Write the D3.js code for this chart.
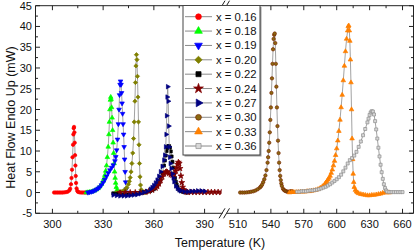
<!DOCTYPE html>
<html><head><meta charset="utf-8">
<script src="https://cdn.jsdelivr.net/npm/d3@7"></script>
<style>html,body{margin:0;padding:0;background:#fff;}svg{display:block;font-family:"Liberation Sans",Arial,sans-serif;}</style>
</head><body><svg id="c" width="415" height="251"></svg>
<script>
// ---- data ----
const leftTicks = [300, 330, 360, 390];
const rightTicks = [510, 540, 570, 600, 630, 660];
const yTicks = [-5, 0, 5, 10, 15, 20, 25, 30, 35, 40, 45];
const labels = ["x = 0.16","x = 0.18","x = 0.19","x = 0.20","x = 0.22","x = 0.24","x = 0.27","x = 0.30","x = 0.33","x = 0.36"];

const T016 = [301,302,303,304,305,306,307,308,309,310,310.5,311,311.3,311.6,311.9,312.2,312.4,312.6,312.8,313.0,313.2,313.4,313.6,313.8,314.0,314.3,314.7,315.2,316,317,318,319,320];
const V016 = [0,0,0,0,0,0,0.05,0.1,0.2,0.5,0.9,2,3.5,5.5,8.5,11.5,14,15.5,15.8,14.5,12,9,6.5,4,2.3,1,0.4,0.15,0.05,0,0,0,0];

const T018 = [320,321,322,323,324,325,326,327,328,329,330,330.5,331,331.5,332,332.5,333,333.4,333.7,334,334.3,334.5,334.7,335,335.3,335.6,335.9,336.2,336.5,336.8,337.1,337.4,337.8,338.2,338.7,339.2,339.7];
const V018 = [0,0.05,0.1,0.2,0.3,0.5,0.7,1.0,1.4,2.0,2.8,3.4,4.2,5.2,6.5,8.5,11,14,17,20,22.3,23,22.5,20.5,18,15,12,9.5,7,5,3.5,2.3,1.3,0.6,0.2,0.05,0];

const T019 = [321,322,323,324,325,326,327,328,329,330,331,332,333,334,335,336,337,337.5,338,338.5,339,339.4,339.7,340,340.3,340.6,340.9,341.2,341.5,341.8,342.1,342.4,342.7,343,343.3,343.6,344,344.5];
const V019 = [0,0.1,0.2,0.3,0.5,0.7,1.0,1.3,1.8,2.4,3.1,3.9,4.7,5.4,6.0,6.6,7.6,8.6,10.2,12.8,16.5,20,23.5,26,26.8,26,24,21.5,19,16.5,14,11,8,5,2.5,0.8,0,-0.3];

const T020 = [338,339,340,341,342,343,344,345,345.5,346,346.5,347,347.5,348,348.4,348.8,349.1,349.4,349.7,350,350.3,350.6,350.9,351.2,351.5,351.8,352.1,352.5,353,354,355];
const V020 = [0,0,0.1,0.2,0.4,0.7,1.2,2,2.7,3.6,5,7,9.5,13,17,22,26.5,30.5,33.2,32,28,23,17,11.5,7,3.8,1.8,0.7,0.2,0,0];

const T022 = [336,338,340,342,344,346,348,350,352,354,356,358,359,360,361,362,363,364,365,366,366.5,367,367.5,368,368.5,369,369.5,370,370.5,371,371.5,372,372.5,373,373.5,374,375,376,377,378,379,380];
const V022 = [-0.2,-0.3,-0.3,-0.3,-0.3,-0.2,-0.2,-0.1,0,0.1,0.2,0.4,0.6,0.8,1.1,1.6,2.3,3.3,4.7,6.5,7.7,8.9,10,10.8,11.2,11.2,10.8,9.9,8.7,7.4,6,4.6,3.5,2.6,1.9,1.3,0.7,0.4,0.2,0.1,0,0];

const T024 = [340,343,346,349,352,355,357,359,361,362,363,364,365,366,367,367.5,368,369,370,371,372,373,373.5,374,374.5,375,375.5,376,376.5,377,377.5,378,379,380,382,384,386,388,390,392,394,396,398,400];
const V024 = [0,0,0,0,0,0.1,0.3,0.6,1.1,1.5,2.1,2.9,3.8,4.5,4.9,5,4.9,4.6,4.3,4.2,4.4,5.2,6,6.8,7.3,7,5.8,4,2.4,1.3,0.7,0.4,0.2,0.1,0.1,0.1,0.1,0.1,0.1,0.1,0.1,0.1,0.1,0.1];

const T027 = [336,338,340,342,344,346,348,350,352,354,356,358,359,360,361,362,363,364,365,366,366.5,367,367.3,367.6,367.9,368.2,368.5,368.8,369.1,369.4,369.8,370.3,371,371.5,372,373,374,375,376,378,380,382,384,386,388,390];
const V027 = [-0.6,-0.7,-0.8,-0.8,-0.8,-0.7,-0.6,-0.5,-0.3,0,0.3,0.8,1.2,1.7,2.3,3,3.9,5,6.3,7.8,9,11,14,18.5,23,25.5,22,16,11,8.5,7,5.8,4.5,3.5,2.6,1.6,1,0.6,0.4,0.2,0.2,0.3,0.3,0.4,0.4,0.3];

const T030 = [512,514,516,518,520,522,524,526,528,530,531,532,533,534,535,536,537,537.5,538,538.5,539,539.5,540,540.5,541,541.5,542,542.5,543,543.5,544,544.5,545,545.5,546,546.5,547,547.5,548,548.5,549,549.5,550,551,552,553,554,555,556,557,558,559,560];
const V030 = [0,0,0,0.05,0.1,0.2,0.3,0.5,0.8,1.2,1.5,1.9,2.5,3.2,4.1,5.4,7.2,8.5,10,12,14.5,17.5,20.5,24,27.5,31,34.5,37,38,38.3,36,31,25.5,20.5,16,12.5,9.5,7.2,5.4,4,3,2.2,1.6,0.9,0.6,0.4,0.3,0.2,0.2,0.2,0.3,0.3,0.2];

const T033 = [557,559,561,563,565,567,569,571,573,575,577,579,581,583,585,587,589,590,591,592,593,594,595,596,597,598,599,600,601,602,603,604,605,606,607,608,609,610,610.5,611,611.5,612,612.5,613,613.5,614,614.5,615,615.5,616,617,618,619,620,622,624,626,628,630,632,634,636,638,640,642,644,646,648];
const V033 = [0,0.1,0.1,0.1,0.1,0.2,0.2,0.2,0.3,0.3,0.4,0.5,0.6,0.8,1.1,1.5,2,2.3,2.7,3.1,3.5,4,4.7,5.5,6.5,7.6,9,10.6,12.5,14.8,17.5,20.5,23.5,27,30.5,34,37,39,40,40.2,39,36.5,32,26.5,20,13,8,4.5,2.5,1.3,0.6,0.2,0,-0.2,-0.4,-0.5,-0.6,-0.7,-0.7,-0.6,-0.6,-0.5,-0.4,-0.3,-0.1,0,0,0];

const T036 = [564,566,568,570,572,574,576,578,580,582,584,586,588,590,592,594,596,598,600,602,604,606,608,610,612,614,616,618,620,622,624,626,628,629,630,631,632,633,634,635,636,637,638,639,640,641,642,643,644,645,646,648,650,652,654,656,658,660];
const V036 = [0.2,0.2,0.3,0.3,0.3,0.4,0.5,0.5,0.6,0.7,0.8,1,1.2,1.4,1.7,2,2.4,2.8,3.2,3.7,4.3,5.1,6,7,7.8,8.3,8.9,9.8,11,12.3,13.8,15.3,16.9,17.8,18.7,19.3,19.6,19.5,18.8,17.2,15.2,13,10.8,8.7,6.7,4.9,3.3,2,1.1,0.5,0.2,0.1,0.1,0.1,0.1,0.1,0.1,0.1];

// ---- styles ----
const series = [
  {T:T016, V:V016, panel:0, sym:d3.symbolCircle, rot:0, fill:"#ff0000", stroke:"#ff0000"},
  {T:T018, V:V018, panel:0, sym:d3.symbolTriangle, rot:0, fill:"#00ff00", stroke:"#00ff00"},
  {T:T019, V:V019, panel:0, sym:d3.symbolTriangle, rot:180, fill:"#0000ff", stroke:"#0000ff"},
  {T:T020, V:V020, panel:0, sym:d3.symbolSquare, rot:45, fill:"#808000", stroke:"#808000"},
  {T:T022, V:V022, panel:0, sym:d3.symbolSquare, rot:0, fill:"#000000", stroke:"#000000"},
  {T:T024, V:V024, panel:0, sym:d3.symbolStar, rot:0, fill:"#800000", stroke:"#800000"},
  {T:T027, V:V027, panel:0, sym:d3.symbolTriangle, rot:90, fill:"#000080", stroke:"#000080"},
  {T:T030, V:V030, panel:1, sym:d3.symbolCircle, rot:0, fill:"#8b6a10", stroke:"#7a2600"},
  {T:T033, V:V033, panel:1, sym:d3.symbolTriangle, rot:0, fill:"#ff8000", stroke:"#ff8000"},
  {T:T036, V:V036, panel:1, sym:d3.symbolSquare, rot:0, fill:"#d8d8d8", stroke:"#8c8c8c"}
];

const svg = d3.select("#c");
const L = 35.5, R = 413.5, TOP = 5.7, BOT = 213.3;
const xL = d3.scaleLinear().domain([290, 400]).range([L, 221.5]);
const xR = d3.scaleLinear().domain([500, 670]).range([227, R]);
const y = d3.scaleLinear().domain([-5, 45]).range([BOT, TOP]);

const defs = svg.append("defs");
defs.append("clipPath").attr("id","cl").append("rect").attr("x",L).attr("y",TOP).attr("width",221.5-L).attr("height",BOT-TOP);
defs.append("clipPath").attr("id","cr").append("rect").attr("x",227).attr("y",TOP).attr("width",R-227).attr("height",BOT-TOP);

// data
series.forEach(s => {
  const xs = s.panel === 0 ? xL : xR;
  const g = svg.append("g").attr("clip-path", s.panel === 0 ? "url(#cl)" : "url(#cr)");
  const pts = s.T.map((t,i)=>[t, s.V[i]]);
  g.append("path").datum(pts)
    .attr("d", d3.line().x(d=>xs(d[0])).y(d=>y(d[1])))
    .attr("fill","none").attr("stroke","#8a8a8a").attr("stroke-width",0.8);
  const sym = d3.symbol().type(s.sym).size(s.sym===d3.symbolStar?11:9);
  g.selectAll("path.m").data(pts).join("path").attr("class","m")
    .attr("d", sym)
    .attr("transform", d=>`translate(${xs(d[0])},${y(d[1])}) rotate(${s.rot})`)
    .attr("fill", s.fill).attr("stroke", s.stroke).attr("stroke-width",0.7);
});

// frame & axes
const ax = svg.append("g").attr("stroke","#222").attr("stroke-width",1).attr("fill","none");
ax.append("line").attr("x1",L).attr("x2",L).attr("y1",TOP).attr("y2",BOT);
ax.append("line").attr("x1",R).attr("x2",R).attr("y1",TOP).attr("y2",BOT);
[TOP, BOT].forEach(yy => {
  ax.append("line").attr("x1",L).attr("x2",222.5).attr("y1",yy).attr("y2",yy);
  ax.append("line").attr("x1",226.5).attr("x2",R).attr("y1",yy).attr("y2",yy);
  ax.append("line").attr("x1",219).attr("x2",225).attr("y1",yy+5).attr("y2",yy-5);
  ax.append("line").attr("x1",223.5).attr("x2",229.5).attr("y1",yy+5).attr("y2",yy-5);
});
function xTicks(scale, majors, minors){
  majors.forEach(v=>{
    const x = scale(v);
    ax.append("line").attr("x1",x).attr("x2",x).attr("y1",BOT).attr("y2",BOT-4.5);
    ax.append("line").attr("x1",x).attr("x2",x).attr("y1",TOP).attr("y2",TOP+4.5);
    svg.append("text").attr("x",x).attr("y",227.5).attr("text-anchor","middle")
      .attr("font-size",11).attr("fill","#111").text(v);
  });
  minors.forEach(v=>{
    const x = scale(v);
    ax.append("line").attr("x1",x).attr("x2",x).attr("y1",BOT).attr("y2",BOT-2.5);
    ax.append("line").attr("x1",x).attr("x2",x).attr("y1",TOP).attr("y2",TOP+2.5);
  });
}
xTicks(xL, leftTicks, leftTicks.map(v=>v+15).filter(v=>v<400));
xTicks(xR, rightTicks, rightTicks.map(v=>v+15).filter(v=>v<670));
yTicks.forEach(v=>{
  const yy = y(v);
  ax.append("line").attr("x1",L).attr("x2",L+4.5).attr("y1",yy).attr("y2",yy);
  ax.append("line").attr("x1",R).attr("x2",R-4.5).attr("y1",yy).attr("y2",yy);
  if (v < 45) {
    const ym = y(v+2.5);
    ax.append("line").attr("x1",L).attr("x2",L+2.5).attr("y1",ym).attr("y2",ym);
    ax.append("line").attr("x1",R).attr("x2",R-2.5).attr("y1",ym).attr("y2",ym);
  }
  svg.append("text").attr("x",32).attr("y",yy+4).attr("text-anchor","end")
    .attr("font-size",11).attr("fill","#111").text(v);
});

// titles
svg.append("text").attr("x",220).attr("y",247).attr("text-anchor","middle")
  .attr("font-size",12.5).attr("fill","#111").text("Temperature (K)");
svg.append("text").attr("transform","translate(14.5,117.5) rotate(-90)").attr("text-anchor","middle")
  .attr("font-size",12.5).attr("fill","#111").text("Heat Flow Endo Up (mW)");

// legend
const lg = svg.append("g");
lg.append("rect").attr("x",184.5).attr("y",7).attr("width",77).attr("height",149.5).attr("fill","#999");
lg.append("rect").attr("x",183).attr("y",5.5).attr("width",77).attr("height",149.5).attr("fill","#fff").attr("stroke","#444").attr("stroke-width",1);
labels.forEach((lab,i)=>{
  const s = series[i];
  const cy = 16.7 + i*14.37;
  lg.append("line").attr("x1",185).attr("x2",212).attr("y1",cy).attr("y2",cy).attr("stroke","#8a8a8a").attr("stroke-width",1);
  lg.append("path").attr("d", d3.symbol().type(s.sym).size(s.sym===d3.symbolStar?30:26))
    .attr("transform",`translate(198.5,${cy}) rotate(${s.rot})`)
    .attr("fill",s.fill).attr("stroke",s.stroke).attr("stroke-width",0.7);
  lg.append("text").attr("x",216).attr("y",cy+4).attr("font-size",11.3).attr("fill","#111").text(lab);
});
</script></body></html>
